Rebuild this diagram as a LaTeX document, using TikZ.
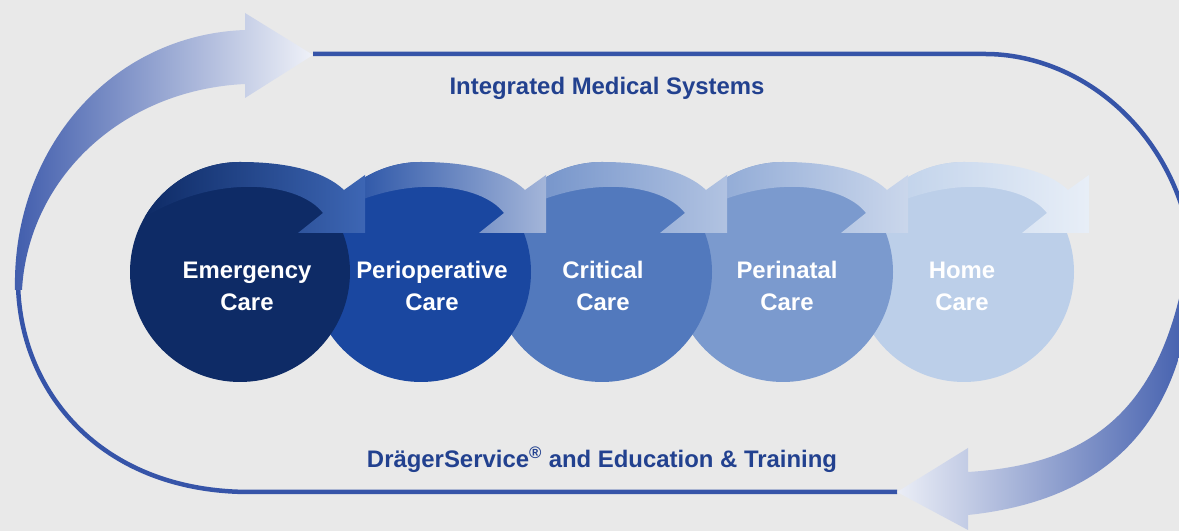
\documentclass[tikz,border=0pt]{standalone}
\usepackage{fontspec}
\setmainfont{Liberation Sans}
\usepackage{xcolor}
\usepackage{tikz}
\usetikzlibrary{shadings}

\definecolor{bggray}{HTML}{E9E9E9}
\definecolor{loopblue}{HTML}{3654A8}
\definecolor{textblue}{HTML}{22418F}
\definecolor{circA}{HTML}{0E2B66}
\definecolor{circB}{HTML}{1A47A0}
\definecolor{circC}{HTML}{5279BD}
\definecolor{circD}{HTML}{7B9ACE}
\definecolor{circE}{HTML}{BCCFE9}
\definecolor{bandA}{HTML}{3D66B4}

\tikzset{
  loopline/.style={line width=3.2pt, draw=loopblue},
  caretext/.style={text=white, align=center, font=\fontsize{17}{22.7}\selectfont\bfseries},
  headtext/.style={text=textblue, font=\fontsize{17}{20}\selectfont\bfseries}
}

\newcommand{\carecircle}[2]{\fill[#2] (#1,259) circle[radius=110];}
\newcommand{\careband}[3]{\shade[shift={(#1,259)}, left color=#2, right color=#3]
  (150:110) arc[start angle=150, end angle=90, radius=110]
  .. controls (50,110) and (85,100) .. (104,82)
  -- (125,97) -- (125,39) -- (58,39) -- (83,59)
  .. controls (60,89) and (-20,100) .. (150:110) -- cycle;}

\begin{document}
\begin{tikzpicture}[x=0.025cm, y=0.025cm]

\useasboundingbox (0,0) rectangle (1179,531);
\fill[bggray] (0,0) rectangle (1179,531);
\clip (0,0) rectangle (1179,531);

% Loop
\draw[loopline] (313,477) -- (985,477) .. controls (1080,477) and (1175,401) .. (1192,281);
\draw[loopline] (897,39) -- (250,39) .. controls (100,39) and (18,141) .. (18,251);

% Big arrows
\shade[left color=loopblue!95!white, right color=loopblue!8!white]
  (15,241) .. controls (12,381) and (110,496) .. (245,501) -- (245,518) -- (313,476)
  -- (245,433) -- (245,447) .. controls (120,441) and (28,351) .. (22,241) -- cycle;
\shade[left color=loopblue!10!white, right color=loopblue!95!white]
  (1194,281) .. controls (1192,111) and (1110,31) .. (968,16) -- (968,1) -- (897,39)
  -- (968,83) -- (968,59) .. controls (1080,66) and (1165,111) .. (1188,281) -- cycle;

% Circles
\carecircle{964}{circE}
\careband{964}{circE}{circE!35!white}
\carecircle{783}{circD}
\careband{783}{circD!90!white}{circD!40!white}
\carecircle{602}{circC}
\careband{602}{circC!85!white}{circC!45!white}
\carecircle{421}{circB}
\careband{421}{circB}{circB!40!white}
\carecircle{240}{circA}
\careband{240}{circA}{bandA}

% Labels
\node[caretext] (emergency)  at (247,245) {Emergency\\Care};
\node[caretext] (periop)     at (432,245) {Perioperative\\Care};
\node[caretext] (critical)   at (603,245) {Critical\\Care};
\node[caretext] (perinatal)  at (787,245) {Perinatal\\Care};
\node[caretext] (home)       at (962,245) {Home\\Care};

\node[headtext] (systems) at (607,443) {Integrated Medical Systems};
\node[headtext] (service) at (602,71) {DrägerService\textsuperscript{®} and Education \& Training};

\end{tikzpicture}
\end{document}
